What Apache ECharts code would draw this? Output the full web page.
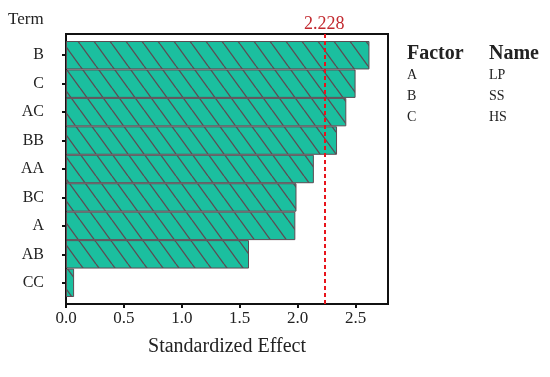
<!DOCTYPE html>
<html>
<head>
<meta charset="utf-8">
<script src="https://cdn.jsdelivr.net/npm/echarts@6/dist/echarts.min.js"></script>
<style>html,body{margin:0;padding:0;background:#fff}#c{width:550px;height:377px}</style>
</head>
<body>
<div id="c"></div>
<script>
var categories = ['B', 'C', 'AC', 'BB', 'AA', 'BC', 'A', 'AB', 'CC'];
var effects = [2.62, 2.50, 2.42, 2.34, 2.14, 1.99, 1.98, 1.58, 0.07];
var criticalValue = 2.228;
var xMin = 0, xMax = 2.78, xInterval = 0.5;
var factorCodes = ['A', 'B', 'C'];
var factorNames = ['LP', 'SS', 'HS'];

var FONT = '"Liberation Serif", "Times New Roman", serif';

// hatch pattern
var tile = document.createElement('canvas');
tile.width = 16; tile.height = 22;
var g = tile.getContext('2d');
g.fillStyle = '#1bbf9f';
g.fillRect(0, 0, 16, 22);
g.strokeStyle = '#5d4a52';
g.lineWidth = 1.3;
[[-16, 0], [0, 0], [16, 0]].forEach(function (o) {
  g.beginPath(); g.moveTo(o[0], o[1]); g.lineTo(o[0] + 16, o[1] + 22); g.stroke();
});

var chart = echarts.init(document.getElementById('c'), null, {renderer: 'canvas'});

function txt(x, y, s, font) {
  return {type: 'text', x: x, y: y, style: {text: s, font: font, fill: '#222', verticalAlign: 'middle', align: 'left'}};
}
var graphics = [
  txt(8, 20, 'Term', '17px ' + FONT),
  txt(407, 53.5, 'Factor', 'bold 20px ' + FONT),
  txt(489, 53.5, 'Name', 'bold 20px ' + FONT)
];
factorCodes.forEach(function (f, i) {
  graphics.push(txt(407, 75.5 + i * 21, f, '14px ' + FONT));
  graphics.push(txt(489, 75.5 + i * 21, factorNames[i], '14px ' + FONT));
});

chart.setOption({
  animation: false,
  backgroundColor: '#fff',
  graphic: graphics,
  grid: [
    {left: 66, right: 162, top: 34, bottom: 73, show: true, borderColor: '#111', borderWidth: 2, backgroundColor: 'transparent'},
    {left: 66, right: 162, top: 41, bottom: 80}
  ],
  xAxis: [
    {
      gridIndex: 0, type: 'value', min: xMin, max: xMax, interval: xInterval,
      axisLine: {show: true, lineStyle: {color: '#111', width: 2}},
      axisTick: {show: true, length: 4, lineStyle: {color: '#111', width: 2}},
      splitLine: {show: false},
      axisLabel: {fontFamily: FONT, fontSize: 17, color: '#222', margin: 6, showMaxLabel: false,
        formatter: function (v) { return v.toFixed(1); }},
      name: 'Standardized Effect', nameLocation: 'middle', nameGap: 33,
      nameTextStyle: {fontFamily: FONT, fontSize: 20, color: '#222'}
    },
    {
      gridIndex: 1, type: 'value', min: xMin, max: xMax, interval: xInterval, show: false
    }
  ],
  yAxis: [
    {gridIndex: 0, type: 'value', min: 0, max: 1, show: false},
    {
      gridIndex: 1, type: 'category', data: categories, inverse: true,
      axisLine: {show: false},
      axisTick: {show: true, alignWithLabel: true, length: 4, lineStyle: {color: '#111', width: 2}},
      axisLabel: {fontFamily: FONT, fontSize: 16, color: '#222', margin: 22},
      splitLine: {show: false}
    }
  ],
  series: [
    {
      type: 'bar', xAxisIndex: 1, yAxisIndex: 1, data: effects,
      barCategoryGap: 0,
      itemStyle: {color: {image: tile, repeat: 'repeat'}, borderColor: '#5d4a52', borderWidth: 1}
    },
    {
      type: 'line', xAxisIndex: 0, yAxisIndex: 0, data: [], silent: true,
      markLine: {
        silent: true, symbol: ['none', 'none'],
        lineStyle: {color: '#e8141c', type: [4, 3], width: 2},
        label: {show: true, position: 'end', formatter: function () { return criticalValue.toFixed(3); },
          color: '#c22a30', fontFamily: FONT, fontSize: 18, distance: 1},
        data: [{xAxis: criticalValue}]
      }
    }
  ]
});
</script>
</body>
</html>
